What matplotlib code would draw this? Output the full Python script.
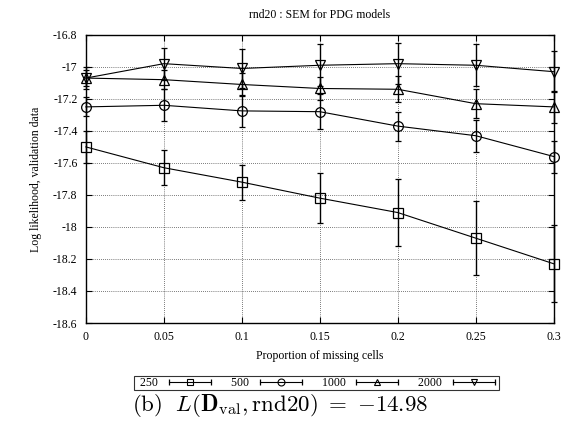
import matplotlib
matplotlib.use("Agg")
import matplotlib.pyplot as plt
from matplotlib.lines import Line2D
from matplotlib.legend_handler import HandlerLine2D
from matplotlib.ticker import FuncFormatter

plt.rcParams["font.family"] = "Liberation Serif"
plt.rcParams["axes.unicode_minus"] = False
plt.rcParams["mathtext.fontset"] = "cm"

# proportion of missing cells
missing = [0, 0.05, 0.1, 0.15, 0.2, 0.25, 0.3]
sizes = ["250", "500", "1000", "2000"]
markers = ["s", "o", "^", "v"]

ll_250 = [-17.50, -17.63, -17.72, -17.82, -17.91, -18.07, -18.23]
err_250 = [0.10, 0.11, 0.11, 0.155, 0.21, 0.23, 0.24]
ll_500 = [-17.25, -17.24, -17.275, -17.28, -17.37, -17.43, -17.56]
err_500 = [0.06, 0.10, 0.10, 0.11, 0.09, 0.10, 0.10]
ll_1000 = [-17.07, -17.08, -17.11, -17.135, -17.14, -17.23, -17.25]
err_1000 = [0.05, 0.06, 0.07, 0.07, 0.08, 0.09, 0.10]
ll_2000 = [-17.07, -16.98, -17.01, -16.99, -16.98, -16.99, -17.03]
err_2000 = [0.07, 0.10, 0.12, 0.13, 0.13, 0.13, 0.13]

series = [(ll_250, err_250), (ll_500, err_500), (ll_1000, err_1000), (ll_2000, err_2000)]

fig = plt.figure(figsize=(5.65, 4.25), dpi=100)
ax = fig.add_axes([0.152, 0.24, 0.828, 0.678])

handles, hmap = [], {}
for (vals, errs), lab, m in zip(series, sizes, markers):
    eb = ax.errorbar(missing, vals, yerr=errs, color="black", lw=0.8, elinewidth=1.0,
                     capsize=2.5, capthick=1.0, marker=m, mfc="none", mec="black",
                     ms=7, mew=0.9)
    for art in eb.lines[0:1] + eb.lines[1] + eb.lines[2]:
        art.set_clip_on(False)
    bar = Line2D([], [], color="black", lw=0.8, marker="|", ms=5, mew=0.9)
    mk = Line2D([], [], ls="none", marker=m, mfc="none", mec="black", ms=5, mew=0.8)
    hmap[mk] = HandlerLine2D(numpoints=1)
    handles.append((bar, mk))

ax.set_xlim(0, 0.3)
ax.set_ylim(-18.6, -16.8)
ax.set_xticks(missing)
ax.set_yticks([-18.6 + 0.2 * i for i in range(10)])
ax.xaxis.set_major_formatter(FuncFormatter(lambda v, p: "%g" % round(v, 3)))
ax.yaxis.set_major_formatter(FuncFormatter(lambda v, p: "%g" % round(v, 2)))
ax.tick_params(direction="in", top=True, right=True, labelsize=8.5, length=4,
               width=0.8, pad=6)
ax.grid(True, color="black", ls=(0, (1, 2)), lw=0.5)
for s in ax.spines.values():
    s.set_linewidth(1.0)

ax.set_xlabel("Proportion of missing cells", fontsize=8.5, labelpad=5)
ax.set_ylabel("Log likelihood, validation data", fontsize=8.5, labelpad=8)
ax.set_title("rnd20 : SEM for PDG models", fontsize=8.5, pad=12)

leg = fig.legend(handles, ["  " + s for s in sizes], handler_map=hmap, ncol=4,
                 numpoints=2, markerfirst=False, loc="center",
                 bbox_to_anchor=(0.560, 0.099), fontsize=8.5, frameon=True,
                 fancybox=False, edgecolor="black", borderpad=0.05,
                 handlelength=4.15, handleheight=0.5, handletextpad=0.6,
                 columnspacing=0.9, borderaxespad=0)
leg.get_frame().set_linewidth(0.8)

fig.text(0.233, 0.047,
         r"$\mathrm{(b)}\ \ L(\mathbf{D}_{\mathrm{val}},\mathrm{rnd20})\ =\ {-}14.98$",
         fontsize=16.5, ha="left", va="center")

fig.savefig("out.png", dpi=100)
